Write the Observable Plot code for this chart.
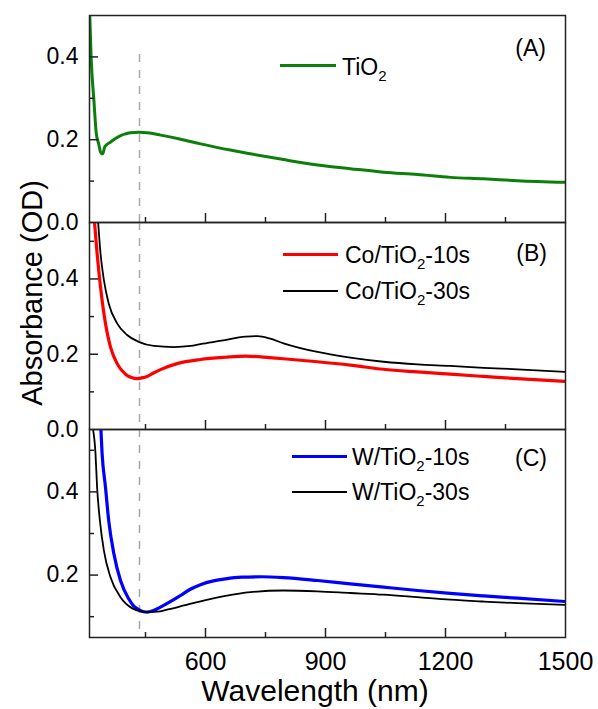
<!DOCTYPE html>
<html><head><meta charset="utf-8">
<script src="https://cdn.jsdelivr.net/npm/d3@7"></script>
<script src="https://cdn.jsdelivr.net/npm/@observablehq/plot@0.6"></script>
<style>
html,body{margin:0;padding:0;background:#fff;}
#wrap{position:relative;width:598px;height:709px;font-family:"Liberation Sans",Arial,sans-serif;color:#000;overflow:hidden;}
#wrap svg{position:absolute;left:0;top:0;}
.t{position:absolute;white-space:nowrap;line-height:1;}
.leg{position:absolute;}
.sub{font-size:15px;position:relative;top:6px;}
</style></head><body><div id="wrap"></div>
<script>
// ---- data ----
const tio2Wl  = [310, 314, 321, 327, 333, 337, 340, 344, 347, 352, 362, 375, 388, 400, 413, 433, 460, 488, 538, 588, 662, 712, 795, 880, 962, 1045, 1130, 1212, 1295, 1380, 1500];
const tio2Abs = [0.52, 0.40, 0.295, 0.215, 0.19, 0.172, 0.166, 0.167, 0.180, 0.187, 0.194, 0.203, 0.210, 0.214, 0.217, 0.218, 0.216, 0.211, 0.201, 0.190, 0.175, 0.166, 0.152, 0.139, 0.130, 0.1215, 0.116, 0.109, 0.1055, 0.101, 0.097];

const co10Wl  = [321, 329, 337.5, 346, 354, 362.5, 379, 400, 415, 429, 440, 454, 470, 487.5, 529, 587.5, 650, 700, 760, 795, 880, 962, 1045, 1130, 1212, 1295, 1380, 1500];
const co10Abs = [0.57, 0.468, 0.379, 0.308, 0.258, 0.219, 0.175, 0.147, 0.138, 0.135, 0.137, 0.141, 0.150, 0.159, 0.175, 0.186, 0.192, 0.195, 0.191, 0.188, 0.180, 0.171, 0.160, 0.153, 0.147, 0.141, 0.135, 0.128];

const co30Wl  = [331, 337.5, 346, 358, 379, 404, 433, 471, 521, 562.5, 587.5, 640, 700, 730, 760, 795, 880, 962, 1045, 1130, 1212, 1295, 1380, 1500];
const co30Abs = [0.56, 0.468, 0.397, 0.335, 0.282, 0.251, 0.233, 0.222, 0.219, 0.222, 0.227, 0.236, 0.247, 0.248, 0.242, 0.229, 0.206, 0.191, 0.180, 0.173, 0.169, 0.164, 0.160, 0.153];

const w10Wl  = [338, 341.5, 350, 358, 371, 387.5, 408, 420, 433, 445, 454, 470, 487.5, 512, 537.5, 562, 587.5, 620, 650, 690, 740, 795, 880, 962, 1045, 1130, 1212, 1295, 1380, 1500];
const w10Abs = [0.56, 0.492, 0.411, 0.331, 0.251, 0.187, 0.143, 0.126, 0.117, 0.112, 0.111, 0.115, 0.123, 0.136, 0.151, 0.166, 0.177, 0.186, 0.191, 0.195, 0.196, 0.194, 0.187, 0.179, 0.171, 0.163, 0.156, 0.150, 0.1445, 0.1365];

const w30Wl  = [317, 325, 329, 336, 346, 362.5, 387.5, 417, 437.5, 462.5, 480, 504, 546, 587.5, 650, 712, 795, 880, 962, 1045, 1130, 1212, 1295, 1380, 1500];
const w30Abs = [0.56, 0.492, 0.411, 0.331, 0.259, 0.195, 0.147, 0.120, 0.113, 0.111, 0.112, 0.117, 0.127, 0.137, 0.150, 0.159, 0.163, 0.161, 0.157, 0.153, 0.147, 0.141, 0.1365, 0.1325, 0.1285];

const xDomain = [310, 1500];
const xMajor = [600, 900, 1200, 1500];
const xMinor = [450, 750, 1050, 1350];
const dashWl = 435;
const dashTopA = 0.415;

const panelNames = ["(A)", "(B)", "(C)"];
const yDomains = [[0, 0.5], [0, 0.55], [0.05, 0.55]];
const yLabelTicks = [[0, 0.2, 0.4], [0, 0.2, 0.4], [0.2, 0.4]];
const yMinorTicks = [[0.1, 0.3], [0.1, 0.3, 0.5], [0.1, 0.3, 0.5]];

const seriesA = [{name: "TiO|2", color: "#0a800a", width: 3, wl: tio2Wl, abs: tio2Abs}];
const seriesB = [
  {name: "Co/TiO|2|-10s", color: "#ff0000", width: 3.2, wl: co10Wl, abs: co10Abs},
  {name: "Co/TiO|2|-30s", color: "#000000", width: 1.8, wl: co30Wl, abs: co30Abs}
];
const seriesC = [
  {name: "W/TiO|2|-10s", color: "#0000ff", width: 3.2, wl: w10Wl, abs: w10Abs},
  {name: "W/TiO|2|-30s", color: "#000000", width: 1.8, wl: w30Wl, abs: w30Abs}
];
const panels = [seriesA, seriesB, seriesC];

// ---- layout ----
const W = 598, H = 709, mL = 89, mR = 33;
const plotW = W - mL - mR;
const panelTops = [15, 222, 429];
const panelBottoms = [222, 429, 637];
const majorLen = 9, minorLen = 5;
const legendLayout = [
  {x1: 280, x2: 336, tx: 342, rows: [{ly: 65.7, base: 75}]},
  {x1: 283, x2: 338, tx: 345, rows: [{ly: 254.3, base: 263.3}, {ly: 290.7, base: 299}]},
  {x1: 292, x2: 347, tx: 352, rows: [{ly: 456.7, base: 465}, {ly: 491.7, base: 500}]}
];
const panelLabelBase = [56, 261, 466];
const panelLabelRight = [546, 547, 547];

const wrap = document.getElementById("wrap");
const fmt = d3.format(".1f");
const tickStyle = {stroke: "#222", strokeWidth: 1.5};

panels.forEach((series, p) => {
  const plotH = panelBottoms[p] - panelTops[p];
  const marks = [];
  marks.push(Plot.ruleX([dashWl], p === 0
    ? {x: d => d, y1: 0, y2: dashTopA, stroke: "#a8a8a8", strokeWidth: 1.5, strokeDasharray: "8,8"}
    : {x: d => d, stroke: "#a8a8a8", strokeWidth: 1.5, strokeDasharray: "8,8"}));
  series.forEach(s => {
    const data = s.wl.map((w, i) => ({wl: w, abs: s.abs[i]}));
    marks.push(Plot.line(data, {x: "wl", y: "abs", stroke: s.color, strokeWidth: s.width, curve: "monotone-x", clip: true}));
  });
  marks.push(Plot.frame({stroke: "#222", strokeWidth: 1.5}));
  // inward ticks (left and bottom)
  marks.push(Plot.tickY(yLabelTicks[p].filter(v => v > yDomains[p][0]), {y: d => d, insetRight: plotW - majorLen, ...tickStyle}));
  marks.push(Plot.tickY(yMinorTicks[p], {y: d => d, insetRight: plotW - minorLen, ...tickStyle}));
  marks.push(Plot.tickX(xMajor.filter(v => v < xDomain[1]), {x: d => d, insetTop: plotH - majorLen, ...tickStyle}));
  marks.push(Plot.tickX(xMinor, {x: d => d, insetTop: plotH - minorLen, ...tickStyle}));
  marks.push(Plot.axisY(yLabelTicks[p], {tickSize: 0, tickPadding: 11, fontSize: 23, tickFormat: fmt, label: null}));
  if (p === 2) marks.push(Plot.axisX(xMajor, {tickSize: 0, tickPadding: 15, fontSize: 25, tickFormat: d3.format("d"), label: null}));
  else marks.push(Plot.axisX([], {tickSize: 0, label: null}));
  const svg = Plot.plot({
    width: W, height: H,
    marginLeft: mL, marginRight: mR,
    marginTop: panelTops[p], marginBottom: H - panelBottoms[p],
    x: {domain: xDomain},
    y: {domain: yDomains[p]},
    style: {background: "transparent", fontFamily: "'Liberation Sans', Arial, sans-serif", color: "#000", overflow: "visible"},
    marks
  });
  wrap.appendChild(svg);

  // legend
  const L = legendLayout[p];
  series.forEach((s, i) => {
    const r = L.rows[i];
    const ln = document.createElement("div");
    ln.className = "leg";
    ln.style.left = L.x1 + "px";
    ln.style.width = (L.x2 - L.x1) + "px";
    ln.style.top = (r.ly - s.width / 2) + "px";
    ln.style.height = s.width + "px";
    ln.style.background = s.color;
    wrap.appendChild(ln);
    const parts = s.name.split("|");
    const tx = document.createElement("div");
    tx.className = "t";
    tx.style.left = L.tx + "px";
    tx.style.top = (r.base - 19.5) + "px";
    tx.style.fontSize = "23px";
    tx.innerHTML = parts[0] + '<span class="sub">' + parts[1] + '</span>' + (parts[2] || "");
    wrap.appendChild(tx);
  });
  const pl = document.createElement("div");
  pl.className = "t";
  pl.style.right = (W - panelLabelRight[p]) + "px";
  pl.style.top = (panelLabelBase[p] - 19.5) + "px";
  pl.style.fontSize = "23px";
  pl.textContent = panelNames[p];
  wrap.appendChild(pl);
});

// axis titles
const yt = document.createElement("div");
yt.className = "t";
yt.style.fontSize = "29px";
yt.style.left = "32px";
yt.style.top = "292.5px";
yt.style.transform = "translate(-50%,-50%) rotate(-90deg)";
yt.textContent = "Absorbance (OD)";
wrap.appendChild(yt);

const xt = document.createElement("div");
xt.className = "t";
xt.style.fontSize = "30px";
xt.style.left = "315px";
xt.style.top = "676.3px";
xt.style.transform = "translateX(-50%)";
xt.textContent = "Wavelength (nm)";
wrap.appendChild(xt);
</script>
</body></html>
